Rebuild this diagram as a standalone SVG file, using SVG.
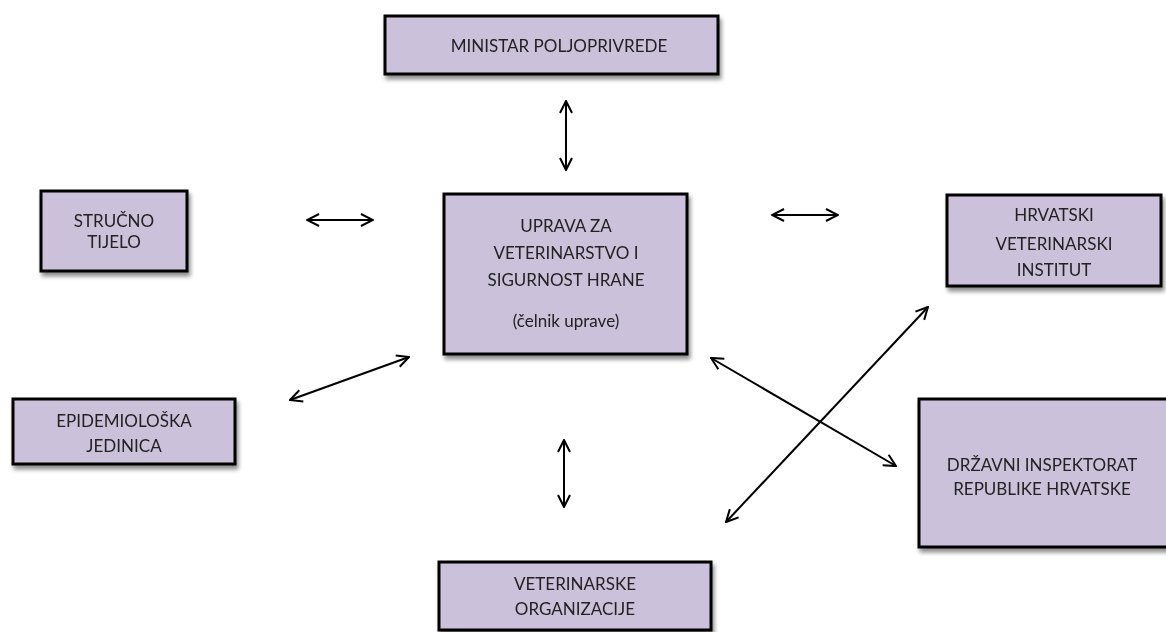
<svg xmlns="http://www.w3.org/2000/svg" width="1166" height="632" viewBox="0 0 1166 632">
<defs>
<filter id="sh" x="-10%" y="-10%" width="130%" height="140%">
<feGaussianBlur in="SourceAlpha" stdDeviation="2"/>
<feOffset dx="2" dy="4" result="b"/>
<feComponentTransfer><feFuncA type="linear" slope="0.45"/></feComponentTransfer>
<feMerge><feMergeNode/><feMergeNode in="SourceGraphic"/></feMerge>
</filter>
<marker id="ah" viewBox="0 0 14 14" refX="13" refY="7" markerWidth="14" markerHeight="14" markerUnits="userSpaceOnUse" orient="auto-start-reverse">
<path d="M1,1 L13,7 L1,13" fill="none" stroke="#000" stroke-width="2"/>
</marker>
</defs>
<style>
.box{fill:#ccc1da;stroke:#000;stroke-width:3}
.t{font-family:Lato,"Open Sans","Liberation Sans",sans-serif;font-size:17px;fill:#222;text-anchor:middle}
.c{stroke:#000;stroke-width:2;fill:none;marker-start:url(#ah);marker-end:url(#ah)}
</style>
<rect width="1166" height="632" fill="#fff"/>
<g id="ministar" filter="url(#sh)">
<rect class="box" x="385" y="16" width="333" height="58"/>
<text class="t" x="559" y="52">MINISTAR POLJOPRIVREDE</text>
</g>
<g id="strucno" filter="url(#sh)">
<rect class="box" x="41" y="191" width="146" height="80"/>
<text class="t" x="114" y="227">STRUČNO</text>
<text class="t" x="114" y="248">TIJELO</text>
</g>
<g id="uprava" filter="url(#sh)">
<rect class="box" x="444" y="194" width="243" height="160"/>
<text class="t" x="566" y="232">UPRAVA ZA</text>
<text class="t" x="566" y="259">VETERINARSTVO I</text>
<text class="t" x="566" y="286">SIGURNOST HRANE</text>
<text class="t" x="566" y="327">(čelnik uprave)</text>
</g>
<g id="hvi" filter="url(#sh)">
<rect class="box" x="947" y="195" width="214" height="91"/>
<text class="t" x="1054" y="221">HRVATSKI</text>
<text class="t" x="1054" y="250">VETERINARSKI</text>
<text class="t" x="1054" y="276">INSTITUT</text>
</g>
<g id="epidem" filter="url(#sh)">
<rect class="box" x="13" y="399" width="222" height="65"/>
<text class="t" x="124" y="427">EPIDEMIOLOŠKA</text>
<text class="t" x="124" y="452">JEDINICA</text>
</g>
<g id="drzavni" filter="url(#sh)">
<rect class="box" x="919" y="399" width="250" height="148"/>
<text class="t" x="1042" y="471">DRŽAVNI INSPEKTORAT</text>
<text class="t" x="1042" y="495">REPUBLIKE HRVATSKE</text>
</g>
<g id="vetorg" filter="url(#sh)">
<rect class="box" x="439" y="562" width="272" height="68"/>
<text class="t" x="575" y="590">VETERINARSKE</text>
<text class="t" x="575" y="615">ORGANIZACIJE</text>
</g>
<g id="connectors">
<line class="c" x1="566" y1="101" x2="566" y2="170"/>
<line class="c" x1="307" y1="220" x2="373" y2="220"/>
<line class="c" x1="772" y1="215" x2="838" y2="215"/>
<line class="c" x1="290" y1="400" x2="409" y2="357"/>
<line class="c" x1="564" y1="440" x2="564" y2="507"/>
<line class="c" x1="711" y1="358" x2="896" y2="466"/>
<line class="c" x1="928" y1="307" x2="726" y2="522"/>
</g>
</svg>
